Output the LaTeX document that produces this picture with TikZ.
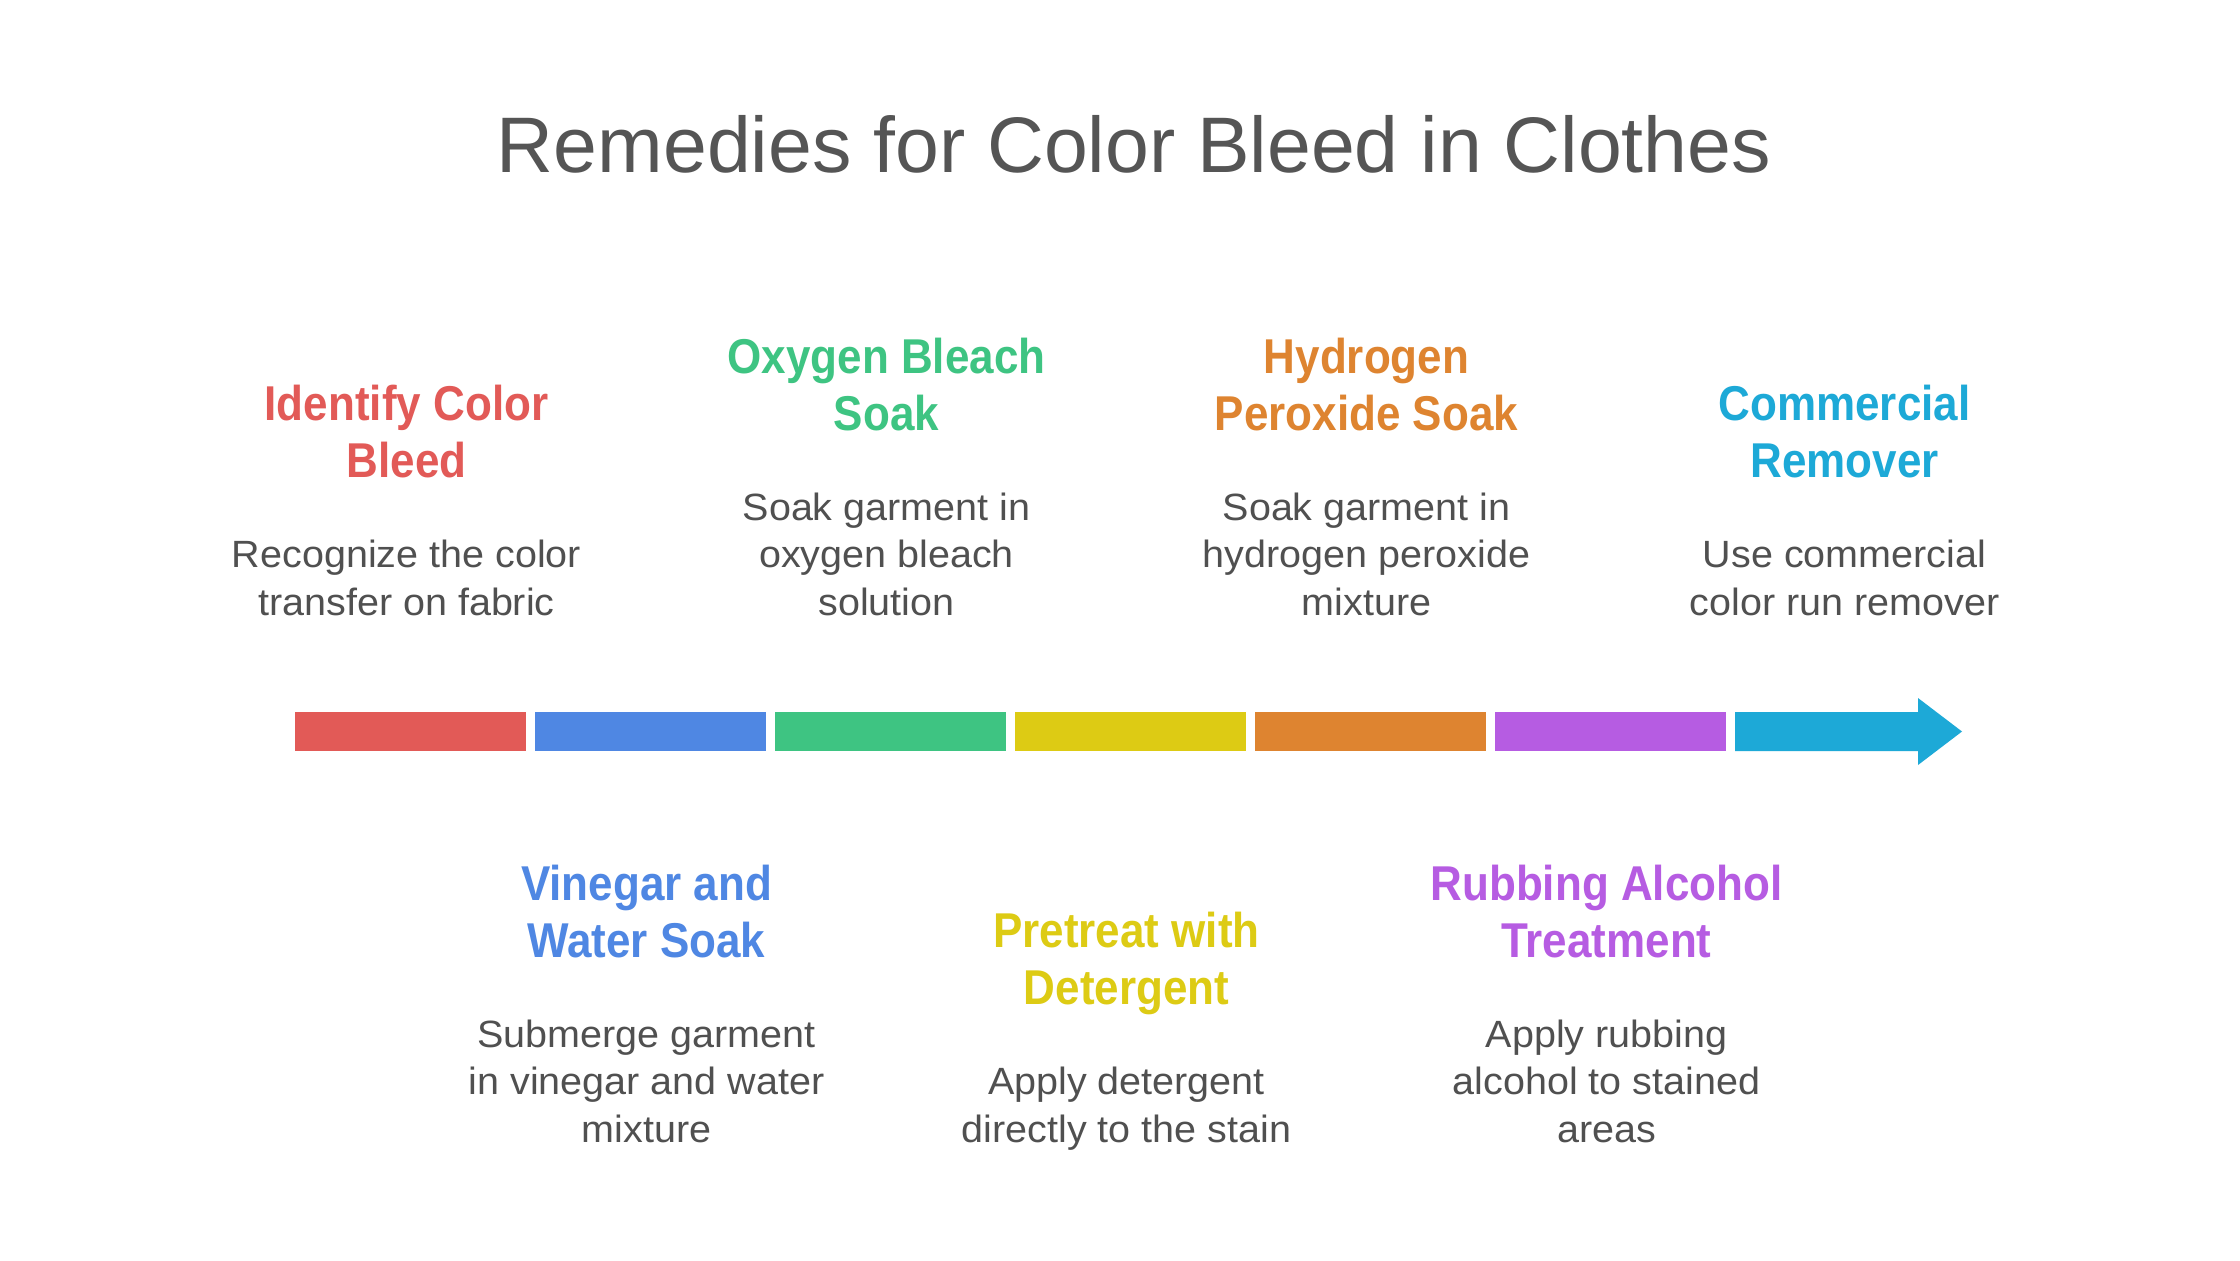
\documentclass[tikz,border=0pt]{standalone}
\usepackage{fontspec}
\setmainfont{Liberation Sans}
\newfontfamily\headfont[FakeStretch=0.9]{Liberation Sans}
\newfontfamily\descfont[FakeStretch=1.04]{Liberation Sans}
\usepackage{xcolor}
\usepackage{tikz}
\usetikzlibrary{positioning}
\definecolor{cRed}{HTML}{E25A57}
\definecolor{cBlue}{HTML}{4F87E3}
\definecolor{cGreen}{HTML}{3EC482}
\definecolor{cYellow}{HTML}{DDCB14}
\definecolor{cOrange}{HTML}{DE8430}
\definecolor{cPurple}{HTML}{B65CE2}
\definecolor{cCyan}{HTML}{1DA9D7}
\definecolor{txtgray}{HTML}{505050}
\definecolor{titlegray}{HTML}{555555}
\tikzset{
    x=0.01cm, y=-0.01cm,                        % One unit is one pixel, y runs down
    node distance = 14.5pt,                     % Gap between a heading and its text
    title/.style={font=\fontsize{22.4}{27}\selectfont, text=titlegray, anchor=base},
    head/.style={font=\headfont\bfseries\fontsize{13.9}{16.2}\selectfont, align=center,
        inner sep=0pt, execute at end node=\vphantom{g}},
    desc/.style={font=\descfont\fontsize{10.8}{13.5}\selectfont, text=txtgray, align=center,
        inner sep=0pt, anchor=south, xshift=-0.04cm, execute at end node=\vphantom{g}},
    seg/.style={rectangle, minimum width=2.31cm, minimum height=0.39cm, inner sep=0pt, outer sep=0pt}
}
\begin{document}
\begin{tikzpicture}
    \path[fill=white] (0,0) rectangle (2240,1260);
    \node[title] (title) at (1134,172) {Remedies for Color Bleed in Clothes};

    % timeline bar
    \foreach \c [count=\i from 0] in {cRed, cBlue, cGreen, cYellow, cOrange, cPurple}
        \node[seg, fill=\c] (s\i) at (410.5+240*\i, 731.5) {};
    \fill[cCyan] (1735,712) -- (1918,712) -- (1918,698) -- (1962,731.5)
        -- (1918,765) -- (1918,751) -- (1735,751) -- cycle;
    \coordinate (s6) at (1848.5,731.5);

    % steps above the bar
    \node[desc] (d0) at (s0 |- 0,624) {Recognize the color\\transfer on fabric};
    \node[head, text=cRed, above=of d0] (h0) {Identify Color\\Bleed};
    \node[desc] (d2) at (s2 |- 0,624) {Soak garment in\\oxygen bleach\\solution};
    \node[head, text=cGreen, above=of d2] (h2) {Oxygen Bleach\\Soak};
    \node[desc] (d4) at (s4 |- 0,624) {Soak garment in\\hydrogen peroxide\\mixture};
    \node[head, text=cOrange, above=of d4] (h4) {Hydrogen\\Peroxide Soak};
    \node[desc] (d6) at (s6 |- 0,624) {Use commercial\\color run remover};
    \node[head, text=cCyan, above=of d6] (h6) {Commercial\\Remover};

    % steps below the bar
    \node[desc] (d1) at (s1 |- 0,1151) {Submerge garment\\in vinegar and water\\mixture};
    \node[head, text=cBlue, above=of d1] (h1) {Vinegar and\\Water Soak};
    \node[desc] (d3) at (s3 |- 0,1151) {Apply detergent\\directly to the stain};
    \node[head, text=cYellow, above=of d3] (h3) {Pretreat with\\Detergent};
    \node[desc] (d5) at (s5 |- 0,1151) {Apply rubbing\\alcohol to stained\\areas};
    \node[head, text=cPurple, above=of d5] (h5) {Rubbing Alcohol\\Treatment};
\end{tikzpicture}
\end{document}
